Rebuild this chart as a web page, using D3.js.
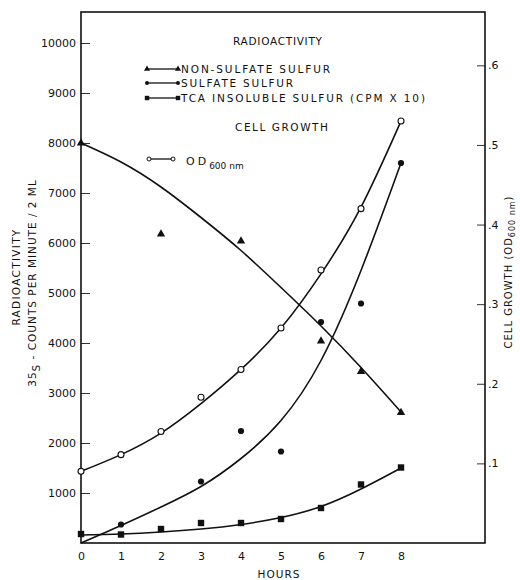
<!DOCTYPE html>
<html>
<head>
<meta charset="utf-8">
<script src="https://cdn.jsdelivr.net/npm/d3@7"></script>
<style>
  body { margin: 0; background: #fff; }
  text { font-family: "DejaVu Sans", sans-serif; fill: #111; }
</style>
</head>
<body>
<div id="chart"></div>
<script>
// Values
var hours = [0, 1, 2, 3, 4, 5, 6, 7, 8];

var nonSulfateHours = [0, 2, 4, 6, 7, 8];
var nonSulfate      = [8000, 6180, 6040, 4040, 3430, 2610];
var nonSulfateFit   = [8000, 7620, 7120, 6510, 5850, 5110, 4340, 3510, 2620];

var sulfateHours = [1, 3, 4, 5, 6, 7, 8];
var sulfate      = [370, 1230, 2240, 1830, 4420, 4790, 7600];
var sulfateFit   = [0, 350, 720, 1130, 1690, 2450, 3650, 5450, 7600];

var tca    = [180, 170, 280, 400, 400, 480, 700, 1170, 1510];
var tcaFit = [160, 180, 220, 280, 370, 510, 730, 1080, 1500];

var od    = [0.090, 0.111, 0.140, 0.183, 0.218, 0.270, 0.343, 0.420, 0.530];
var odFit = [0.090, 0.111, 0.138, 0.175, 0.218, 0.270, 0.338, 0.422, 0.530];

var leftTicks  = [1000, 2000, 3000, 4000, 5000, 6000, 7000, 8000, 9000, 10000];
var rightTicks = [0.1, 0.2, 0.3, 0.4, 0.5, 0.6];

// Frame (note: "top" is reserved on window, so use plot* names)
var totalWidth = 520, totalHeight = 580;
var plotLeft = 81, plotRight = 485, plotTop = 12, plotBottom = 543;

var svg = d3.select("#chart")
  .append("svg")
    .attr("width", totalWidth)
    .attr("height", totalHeight);

svg.append("rect")
  .attr("width", totalWidth)
  .attr("height", totalHeight)
  .attr("fill", "#fff");

// Scales
var x = d3.scaleLinear().domain([0, 10.1]).range([plotLeft, plotRight]);
var y = d3.scaleLinear().domain([0, 10620]).range([plotBottom, plotTop]);
var y2 = d3.scaleLinear().domain([0, 0.667]).range([plotBottom, plotTop]);

// Axes (ticks point inward)
var yAxis = svg.append("g")
  .attr("transform", "translate(" + plotLeft + ",0)")
  .call(d3.axisLeft(y).tickValues(leftTicks).tickSize(-9).tickPadding(5)
        .tickFormat(d3.format("d")));
var y2Axis = svg.append("g")
  .attr("transform", "translate(" + plotRight + ",0)")
  .call(d3.axisRight(y2).tickValues(rightTicks).tickSize(-8).tickPadding(3)
        .tickFormat(function(d){ return d3.format(".1f")(d).replace("0.", "."); }));
var xAxis = svg.append("g")
  .attr("transform", "translate(0," + plotBottom + ")")
  .call(d3.axisBottom(x).tickValues(hours).tickSize(0).tickPadding(9));

[yAxis, y2Axis, xAxis].forEach(function(g){
  g.select(".domain").remove();
  g.selectAll("line").attr("stroke", "#333").attr("stroke-width", 1);
  g.selectAll("text")
    .attr("font-family", "DejaVu Sans")
    .attr("font-size", 11)
    .attr("fill", "#111");
});

// Box around plot
svg.append("rect")
  .attr("x", plotLeft).attr("y", plotTop)
  .attr("width", plotRight - plotLeft).attr("height", plotBottom - plotTop)
  .attr("fill", "none")
  .attr("stroke", "#111")
  .attr("stroke-width", 1.6);

// Fitted curves
var line = d3.line().curve(d3.curveNatural);
function drawFit(vals, scale){
  svg.append("path")
    .attr("d", line(hours.map(function(h, i){ return [x(h), scale(vals[i])]; })))
    .attr("fill", "none")
    .attr("stroke", "#111")
    .attr("stroke-width", 1.6);
}
drawFit(nonSulfateFit, y);
drawFit(sulfateFit, y);
drawFit(tcaFit, y);
drawFit(odFit, y2);

// Points
var tri = d3.symbol().type(d3.symbolTriangle).size(30);
svg.selectAll(".tri")
  .data(nonSulfate)
  .enter().append("path")
    .attr("d", tri)
    .attr("transform", function(d, i){ return "translate(" + x(nonSulfateHours[i]) + "," + y(d) + ")"; })
    .attr("fill", "#111");

svg.selectAll(".dot")
  .data(sulfate)
  .enter().append("circle")
    .attr("cx", function(d, i){ return x(sulfateHours[i]); })
    .attr("cy", function(d){ return y(d); })
    .attr("r", 3.1)
    .attr("fill", "#111");

svg.selectAll(".sq")
  .data(tca)
  .enter().append("rect")
    .attr("x", function(d, i){ return x(hours[i]) - 3.2; })
    .attr("y", function(d){ return y(d) - 3.2; })
    .attr("width", 6.4).attr("height", 6.4)
    .attr("fill", "#111");

svg.selectAll(".od")
  .data(od)
  .enter().append("circle")
    .attr("cx", function(d, i){ return x(hours[i]); })
    .attr("cy", function(d){ return y2(d); })
    .attr("r", 3)
    .attr("fill", "#fff")
    .attr("stroke", "#111")
    .attr("stroke-width", 1.1);

// Legend
function label(txt, lx, ly, len){
  svg.append("text")
    .attr("x", lx).attr("y", ly)
    .attr("font-size", 10.5)
    .attr("textLength", len)
    .attr("lengthAdjust", "spacing")
    .text(txt);
}
label("RADIOACTIVITY", 233, 45, 89);
label("NON-SULFATE SULFUR", 181, 73, 149);
label("SULFATE SULFUR", 181, 87, 112);
label("TCA INSOLUBLE SULFUR (CPM X 10)", 181, 102, 244);
label("CELL GROWTH", 235, 131, 93);

function legendLine(ly){
  svg.append("line")
    .attr("x1", 147).attr("x2", 178)
    .attr("y1", ly).attr("y2", ly)
    .attr("stroke", "#111").attr("stroke-width", 1.3);
}
legendLine(69);
[147, 178].forEach(function(lx){
  svg.append("path").attr("d", d3.symbol().type(d3.symbolTriangle).size(16))
    .attr("transform", "translate(" + lx + ",69)").attr("fill", "#111");
});
legendLine(83);
[147, 178].forEach(function(lx){
  svg.append("circle").attr("cx", lx).attr("cy", 83).attr("r", 2).attr("fill", "#111");
});
legendLine(98);
[147, 178].forEach(function(lx){
  svg.append("rect").attr("x", lx - 2.2).attr("y", 95.8).attr("width", 4.4).attr("height", 4.4).attr("fill", "#111");
});
svg.append("line")
  .attr("x1", 149).attr("x2", 173).attr("y1", 159).attr("y2", 159)
  .attr("stroke", "#111").attr("stroke-width", 1.3);
[149, 173].forEach(function(lx){
  svg.append("circle").attr("cx", lx).attr("cy", 159).attr("r", 2)
    .attr("fill", "#fff").attr("stroke", "#111").attr("stroke-width", 1);
});
var odLab = svg.append("text").attr("x", 186).attr("y", 165).attr("font-size", 11);
odLab.append("tspan").attr("letter-spacing", 3).text("OD");
odLab.append("tspan").attr("dy", 4).attr("font-size", 9).text("600 nm");

// Axis titles
svg.append("text")
  .attr("x", 279).attr("y", 578)
  .attr("text-anchor", "middle")
  .attr("font-size", 10.5)
  .attr("letter-spacing", 1)
  .text("HOURS");

svg.append("text")
  .attr("transform", "translate(20,277) rotate(-90)")
  .attr("text-anchor", "middle")
  .attr("font-size", 10.5)
  .attr("letter-spacing", 1.3)
  .text("RADIOACTIVITY");

var t2 = svg.append("text")
  .attr("transform", "translate(36,283) rotate(-90)")
  .attr("text-anchor", "middle")
  .attr("font-size", 10.5)
  .attr("letter-spacing", 1);
t2.append("tspan").text("35");
t2.append("tspan").attr("dy", 4).text("S");
t2.append("tspan").attr("dy", -4).text(" - COUNTS  PER  MINUTE / 2 ML");

var t3 = svg.append("text")
  .attr("transform", "translate(512,272) rotate(-90)")
  .attr("text-anchor", "middle")
  .attr("font-size", 10)
  .attr("letter-spacing", 1);
t3.append("tspan").text("CELL GROWTH (OD");
t3.append("tspan").attr("dy", 3).attr("font-size", 8).text("600 nm");
t3.append("tspan").attr("dy", -3).text(")");
</script>
</body>
</html>
